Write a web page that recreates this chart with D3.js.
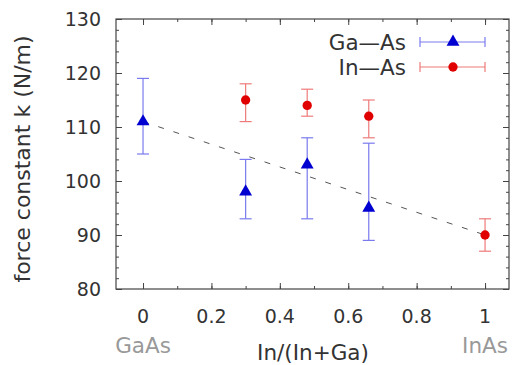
<!DOCTYPE html>
<html>
<head>
<meta charset="utf-8">
<script src="https://cdn.jsdelivr.net/npm/d3@7"></script>
<style>
  body { margin: 0; background: #fff; }
  text { font-family: "DejaVu Sans", sans-serif; }
</style>
</head>
<body>
<div id="chart"></div>
<script>
// Ga-As bonds
var gaX = [0, 0.3, 0.48, 0.66];
var gaK = [111, 98, 103, 95];
var gaLo = [105, 93, 93, 89];
var gaHi = [119, 104, 108, 107];
// In-As bonds
var inX = [0.3, 0.48, 0.66, 1];
var inK = [115, 114, 112, 90];
var inLo = [111, 112, 108, 87];
var inHi = [118, 117, 115, 93];
// linear guide between end members
var guideX = [0, 1];
var guideK = [111, 90];

var xTicks = [0, 0.2, 0.4, 0.6, 0.8, 1];
var yTicks = [80, 90, 100, 110, 120, 130];

var width = 513, height = 365;
var plotLeft = 116, plotRight = 509, plotTop = 19, plotBottom = 289;

var svg = d3.select("#chart").append("svg")
  .attr("width", width)
  .attr("height", height);

var x = d3.scaleLinear().domain([-0.079, 1.07]).range([plotLeft, plotRight]);
var y = d3.scaleLinear().domain([80, 130]).range([plotBottom, plotTop]);

var axisColor = "#444";
var textColor = "#333";
var tickFont = 19, labelFont = 21.5;

// minor + major ticks drawn inward on all four sides
var g = svg.append("g");
function ticks(axisFn, scale, values, size, transform) {
  g.append("g")
    .attr("transform", transform)
    .call(axisFn(scale).tickValues(values).tickSize(size).tickFormat(""))
    .call(function(s){
      s.select(".domain").remove();
      s.selectAll("line").attr("stroke", axisColor);
    });
}
var xMinor = d3.range(0, 1.01, 0.1);
var yMinor = d3.range(80, 130.1, 2);
ticks(d3.axisBottom, x, xMinor, -3, "translate(0," + plotBottom + ")");
ticks(d3.axisBottom, x, xTicks, -6, "translate(0," + plotBottom + ")");
ticks(d3.axisTop, x, xMinor, -3, "translate(0," + plotTop + ")");
ticks(d3.axisTop, x, xTicks, -6, "translate(0," + plotTop + ")");
ticks(d3.axisLeft, y, yMinor, -3, "translate(" + plotLeft + ",0)");
ticks(d3.axisLeft, y, yTicks, -6, "translate(" + plotLeft + ",0)");
ticks(d3.axisRight, y, yMinor, -3, "translate(" + plotRight + ",0)");
ticks(d3.axisRight, y, yTicks, -6, "translate(" + plotRight + ",0)");

svg.append("rect")
  .attr("x", plotLeft).attr("y", plotTop)
  .attr("width", plotRight - plotLeft).attr("height", plotBottom - plotTop)
  .attr("fill", "none").attr("stroke", axisColor).attr("stroke-width", 1.2);

// tick labels
svg.append("g").selectAll("text").data(yTicks).enter().append("text")
  .attr("x", plotLeft - 15)
  .attr("y", function(d){ return y(d); })
  .attr("dy", "0.36em")
  .attr("text-anchor", "end")
  .attr("font-size", tickFont)
  .attr("fill", textColor)
  .text(function(d){ return d; });

svg.append("g").selectAll("text").data(xTicks).enter().append("text")
  .attr("x", function(d){ return x(d); })
  .attr("y", 316)
  .attr("dy", "0.36em")
  .attr("text-anchor", "middle")
  .attr("font-size", tickFont)
  .attr("fill", textColor)
  .text(function(d){ return d; });

// end member labels
svg.append("text").attr("x", x(0)).attr("y", 345).attr("dy", "0.36em")
  .attr("text-anchor", "middle").attr("font-size", labelFont).attr("fill", "#999")
  .text("GaAs");
svg.append("text").attr("x", x(1)).attr("y", 345).attr("dy", "0.36em")
  .attr("text-anchor", "middle").attr("font-size", labelFont).attr("fill", "#999")
  .text("InAs");

svg.append("text").attr("x", 313).attr("y", 352).attr("dy", "0.36em")
  .attr("text-anchor", "middle").attr("font-size", labelFont).attr("fill", textColor)
  .text("In/(In+Ga)");

svg.append("text")
  .attr("transform", "translate(22," + 159 + ") rotate(-90)")
  .attr("dy", "0.36em")
  .attr("text-anchor", "middle").attr("font-size", 22).attr("fill", textColor)
  .text("force constant k (N/m)");

// dashed guide
svg.append("path")
  .datum(d3.zip(guideX, guideK))
  .attr("d", d3.line().x(function(d){ return x(d[0]); }).y(function(d){ return y(d[1]); }))
  .attr("fill", "none")
  .attr("stroke", "#555")
  .attr("stroke-width", 1)
  .attr("stroke-dasharray", "6,10");

function errorSeries(xs, ks, lo, hi, color, barColor, symbol, size) {
  var data = xs.map(function(v, i){ return {x: v, k: ks[i], lo: lo[i], hi: hi[i]}; });
  var s = svg.append("g");
  var bars = s.selectAll("g.bar").data(data).enter().append("g").attr("class", "bar")
    .attr("stroke", barColor).attr("stroke-width", 1.2);
  bars.append("line")
    .attr("x1", function(d){ return x(d.x); }).attr("x2", function(d){ return x(d.x); })
    .attr("y1", function(d){ return y(d.lo); }).attr("y2", function(d){ return y(d.hi); });
  bars.append("line")
    .attr("x1", function(d){ return x(d.x) - 6; }).attr("x2", function(d){ return x(d.x) + 6; })
    .attr("y1", function(d){ return y(d.lo); }).attr("y2", function(d){ return y(d.lo); });
  bars.append("line")
    .attr("x1", function(d){ return x(d.x) - 6; }).attr("x2", function(d){ return x(d.x) + 6; })
    .attr("y1", function(d){ return y(d.hi); }).attr("y2", function(d){ return y(d.hi); });
  s.selectAll("path.mark").data(data).enter().append("path").attr("class", "mark")
    .attr("d", d3.symbol().type(symbol).size(size))
    .attr("transform", function(d){ return "translate(" + x(d.x) + "," + y(d.k) + ")"; })
    .attr("fill", color);
}

errorSeries(gaX, gaK, gaLo, gaHi, "#0000d0", "#7a7aee", d3.symbolTriangle, 72);
errorSeries(inX, inK, inLo, inHi, "#e00000", "#ee7a7a", d3.symbolCircle, 68);

// legend
var legend = [
  {label: "Ga\u2014As", color: "#0000d0", bar: "#7a7aee", symbol: d3.symbolTriangle, size: 72, y: 42},
  {label: "In\u2014As", color: "#e00000", bar: "#ee7a7a", symbol: d3.symbolCircle, size: 68, y: 67}
];
var lg = svg.append("g").selectAll("g").data(legend).enter().append("g");
lg.append("text").attr("x", 406).attr("y", function(d){ return d.y; }).attr("dy", "0.36em")
  .attr("text-anchor", "end").attr("font-size", labelFont).attr("fill", textColor)
  .text(function(d){ return d.label; });
lg.append("line").attr("x1", 420).attr("x2", 485)
  .attr("y1", function(d){ return d.y; }).attr("y2", function(d){ return d.y; })
  .attr("stroke", function(d){ return d.bar; }).attr("stroke-width", 1.2);
lg.append("line").attr("x1", 420).attr("x2", 420)
  .attr("y1", function(d){ return d.y - 5; }).attr("y2", function(d){ return d.y + 5; })
  .attr("stroke", function(d){ return d.bar; }).attr("stroke-width", 1.2);
lg.append("line").attr("x1", 485).attr("x2", 485)
  .attr("y1", function(d){ return d.y - 5; }).attr("y2", function(d){ return d.y + 5; })
  .attr("stroke", function(d){ return d.bar; }).attr("stroke-width", 1.2);
lg.append("path")
  .attr("d", function(d){ return d3.symbol().type(d.symbol).size(d.size)(); })
  .attr("transform", function(d){ return "translate(453," + d.y + ")"; })
  .attr("fill", function(d){ return d.color; });
</script>
</body>
</html>
